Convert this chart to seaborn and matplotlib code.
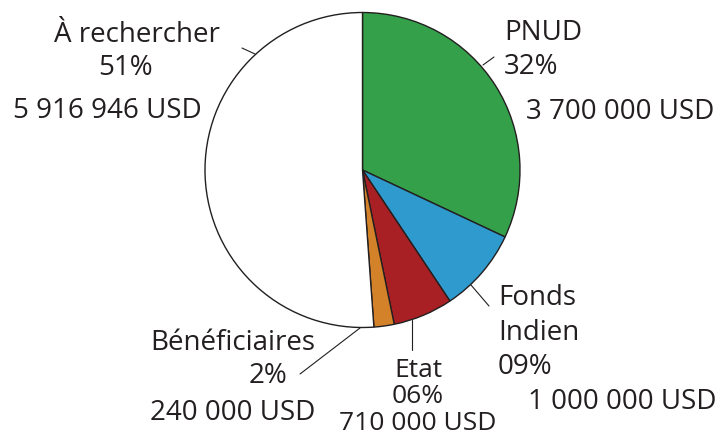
import matplotlib
matplotlib.use("Agg")
import matplotlib.pyplot as plt
import seaborn as sns

sns.set_theme(style="white")
plt.rcParams['font.family'] = ['Open Sans', 'DejaVu Sans']

# Data
categories = ["PNUD", "Fonds Indien", "Etat", "Bénéficiaires", "À rechercher"]
amounts = [3700000, 1000000, 710000, 240000, 5916946]
pct_labels = ["32%", "09%", "06%", "2%", "51%"]
amount_labels = ["3 700 000 USD", "1 000 000 USD", "710 000 USD", "240 000 USD", "5 916 946 USD"]
colors = ["#34a049", "#2e9acd", "#a81f24", "#d4822a", "#ffffff"]

W, H = 721, 436
fig = plt.figure(figsize=(W / 100, H / 100), dpi=100)
ax = fig.add_axes([0, 0, 1, 1])
ink = "#231f20"

def P(x, y):
    return (x, H - y)

ax.pie(amounts, colors=colors, startangle=90, counterclock=False,
       center=P(362.5, 170), radius=157.5,
       wedgeprops=dict(edgecolor=ink, linewidth=1.0))
ax.set_xlim(0, W)
ax.set_ylim(0, H)
ax.set_aspect('equal')
ax.axis('off')

fs = 20

def txt(x, y, s, ha='left', size=fs, **kw):
    ax.text(*P(x, y), s, ha=ha, va='baseline', fontsize=size, color=ink, **kw)

def line(p, q):
    ax.plot([p[0], q[0]], [H - p[1], H - q[1]], color=ink, lw=0.8)

# À rechercher
txt(137, 42, "À rechercher", 'center')
txt(125, 75, pct_labels[4], 'center')
txt(202, 118, amount_labels[4], 'right')
line((242, 48), (255, 54))

# PNUD
txt(504, 40, categories[0])
txt(504, 74, pct_labels[0])
txt(526, 119, amount_labels[0])
line((483, 65), (494, 57))

# Fonds Indien
fonds = categories[1].split(" ")
txt(498, 305, fonds[0])
txt(498, 340, fonds[1])
txt(498, 374, pct_labels[1])
txt(528, 409, amount_labels[1])
line((471, 285), (489, 306))

# Etat (one centred block of three lines)
txt(418, 430, "\n".join([categories[2], pct_labels[2], amount_labels[2]]),
    'center', size=19, multialignment='center', linespacing=1.08)
line((412, 320), (412, 350))

# Bénéficiaires
txt(315, 350, categories[3], 'right')
txt(287, 383, pct_labels[3], 'right')
txt(315, 420, amount_labels[3], 'right')
line((360, 328), (300, 374))

fig.savefig("out.png", dpi=100)
